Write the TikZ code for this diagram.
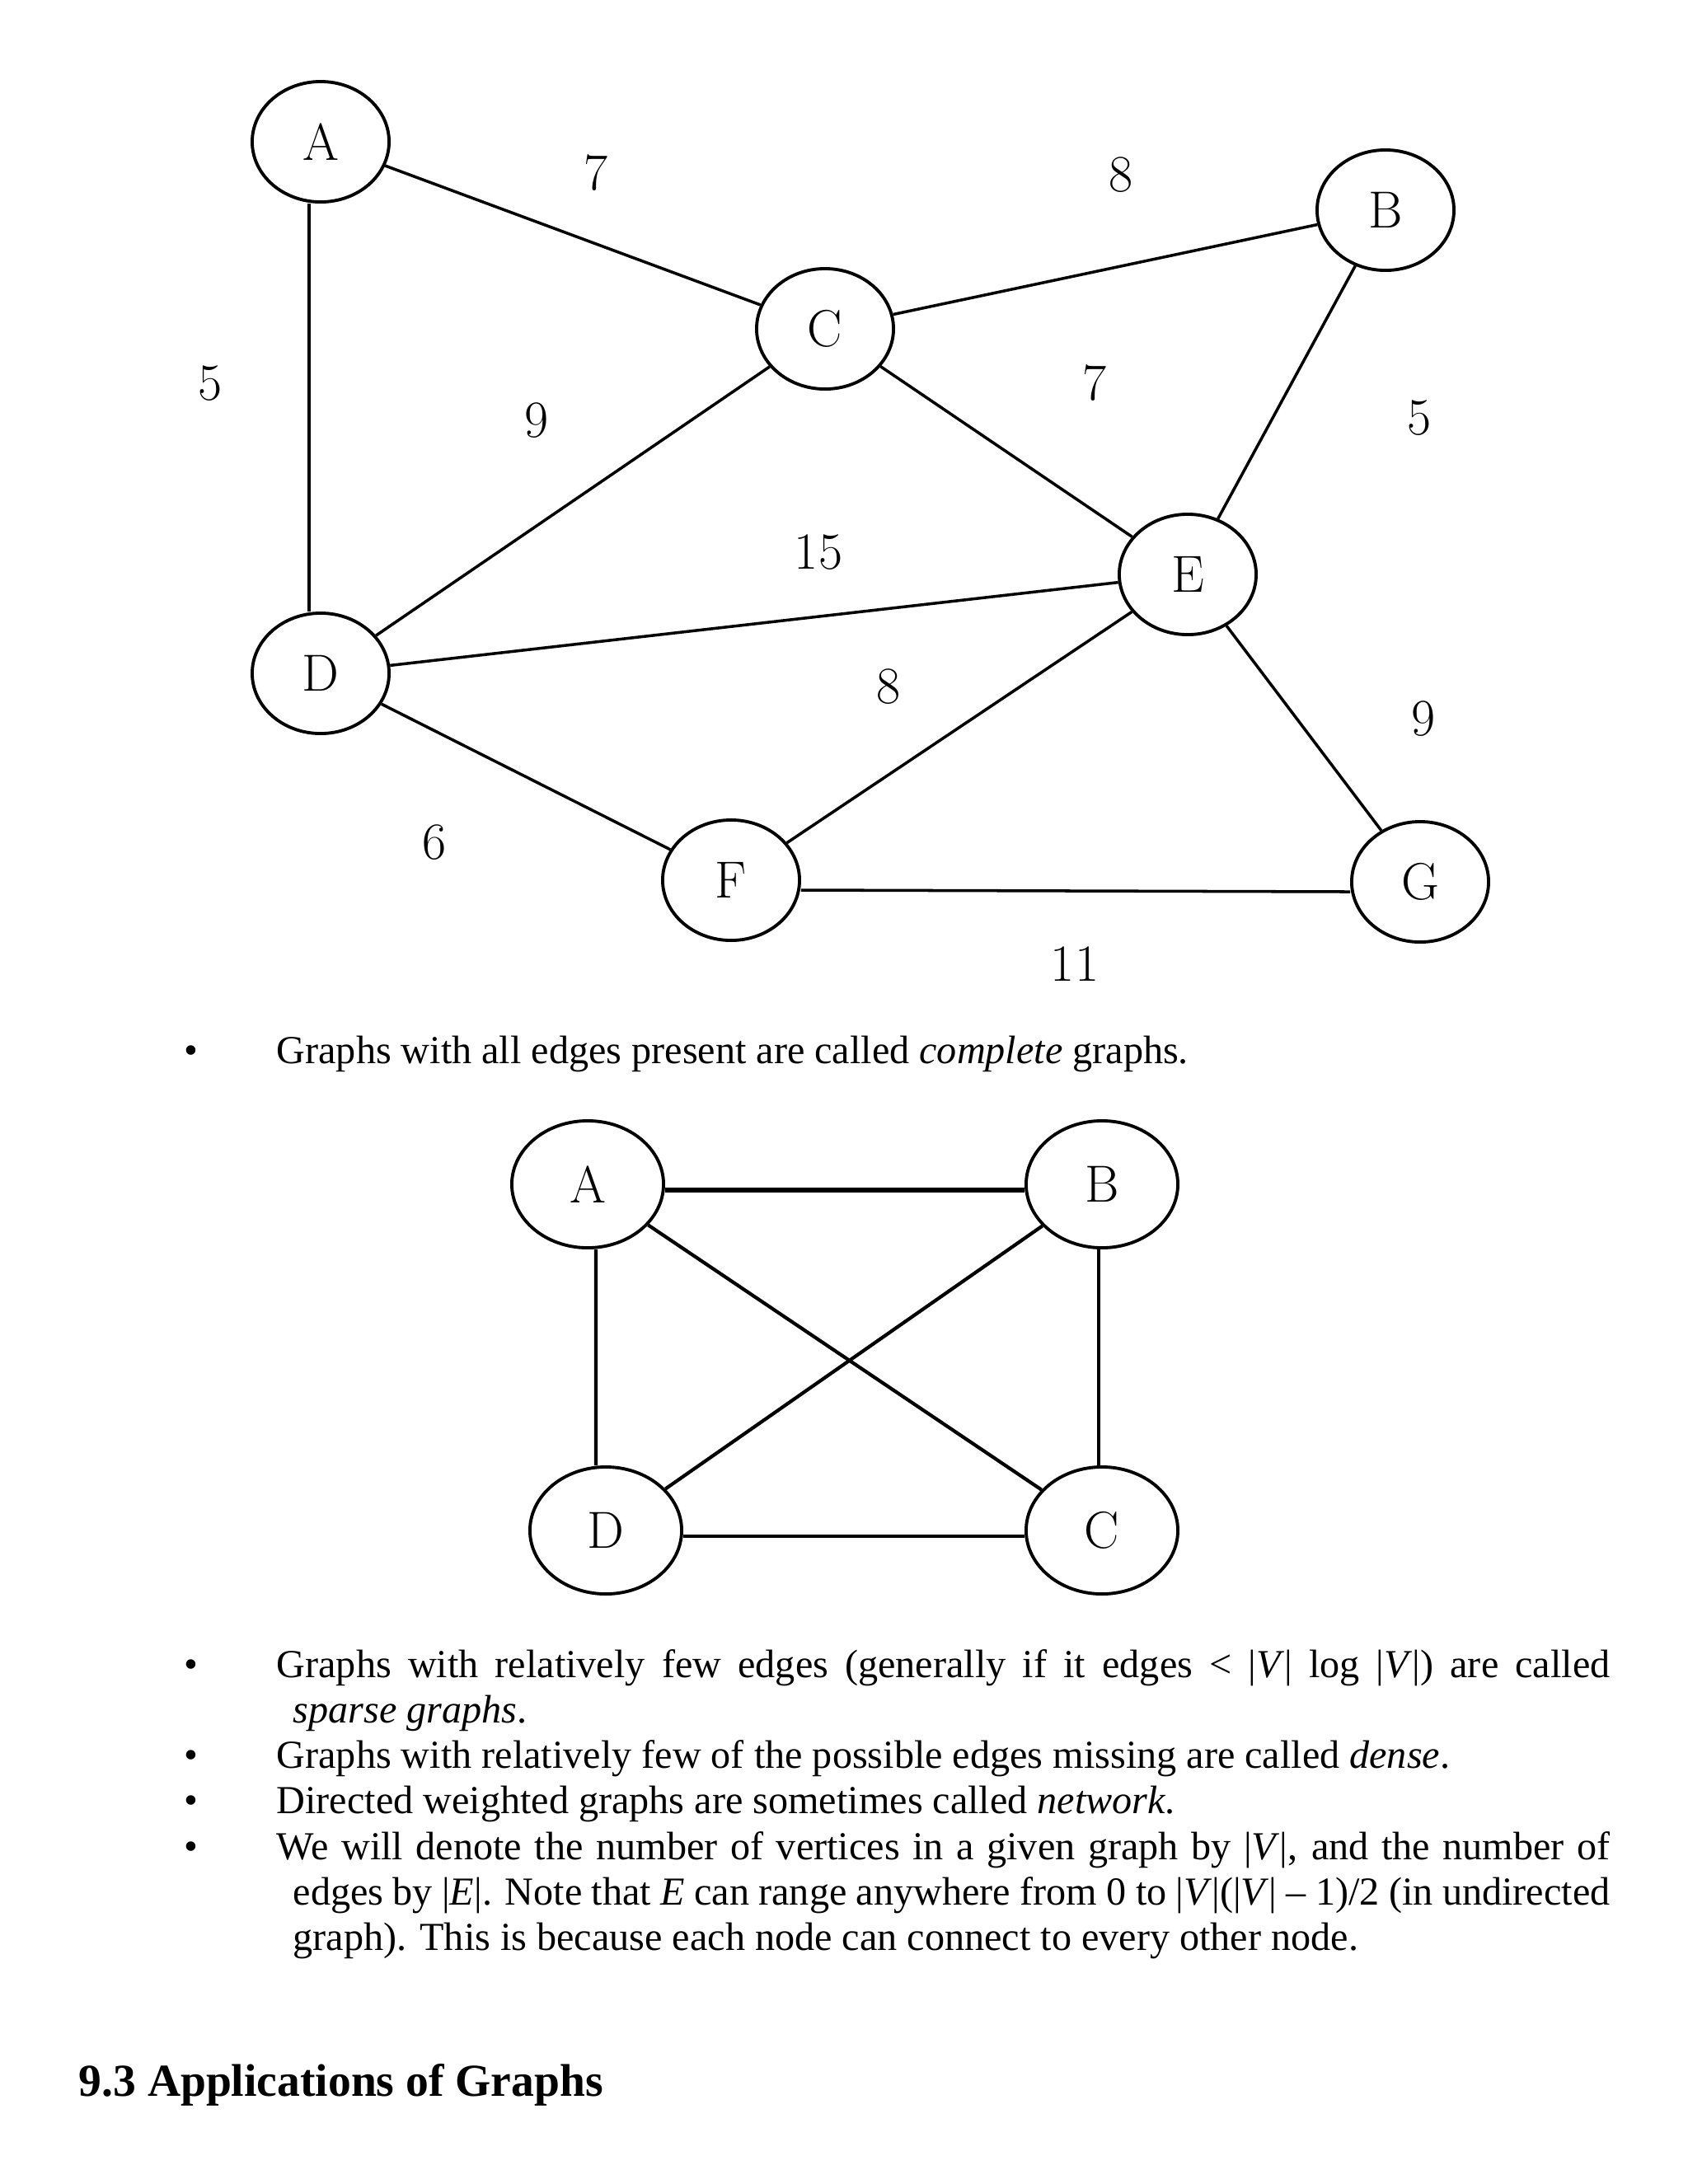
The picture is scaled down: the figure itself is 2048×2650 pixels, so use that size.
\documentclass[tikz,border=0pt]{standalone}
\usepackage{fontspec}
\usetikzlibrary{shapes.geometric}
\newfontfamily\bodyfont[Ligatures=TeX]{Liberation Serif}

\tikzset{
  vtx/.style={ellipse,draw,line width=1.1pt,minimum width=1.66cm,minimum height=1.46cm,inner sep=0pt,font=\fontsize{18}{20}\selectfont},
  kvtx/.style={vtx,minimum width=1.84cm,minimum height=1.54cm},
  wt/.style={inner sep=0pt,font=\fontsize{18}{20}\selectfont},
  link/.style={line width=1pt},
  klink/.style={line width=1.2pt},
  txt/.style={anchor=base west,inner sep=0pt,font=\bodyfont\fontsize{13.7}{15.7}\selectfont},
  dot/.style={txt,anchor=base},
  para/.style={txt,text width=16.17cm,align=justify},
}

\begin{document}
\begin{tikzpicture}[x=0.01cm,y=-0.01cm]
\useasboundingbox (0,0) rectangle (2048,2650);

% weighted graph
\node[vtx] (A) at (389,172) {A};
\node[vtx] (B) at (1681,255) {B};
\node[vtx] (C) at (1001,399) {C};
\node[vtx] (D) at (389,817) {D};
\node[vtx] (E) at (1441,697) {E};
\node[vtx] (F) at (887,1068) {F};
\node[vtx] (G) at (1723,1070) {G};
\draw[link] ([xshift=-0.14cm]A.south) -- ([xshift=-0.14cm]D.north);
\draw[link] ([yshift=-0.12cm]F.east) -- ([yshift=-0.12cm]G.west);
\foreach \u/\v in {A/C,C/B,D/C,C/E,B/E,D/E,F/E,E/G,D/F}
  \draw[link] (\u) -- (\v);
\foreach \n/\p/\w in {AC/{723,210}/7,CB/{1360,212}/8,AD/{255,465}/5,DC/{651,510}/9,
    CE/{1328,465}/7,BE/{1722,507}/5,DE/{993,670}/15,EF/{1078,833}/8,
    EG/{1727,872}/9,DF/{527,1022}/6,FG/{1304,1170}/11}
  \node[wt] (w\n) at (\p) {\w};

% complete graph
\node[kvtx] (ka) at (713,1437) {A};
\node[kvtx] (kb) at (1337,1437) {B};
\node[kvtx] (kc) at (1337,1857) {C};
\node[kvtx] (kd) at (735,1857) {D};
\draw[klink,line width=1.6pt] ([yshift=-0.07cm]ka.east) -- ([yshift=-0.07cm]kb.west);
\draw[klink] ([yshift=-0.07cm]kd.east) -- ([yshift=-0.07cm]kc.west);
\draw[klink] ([xshift=0.1cm]ka.south) -- ([xshift=-0.12cm]kd.north);
\draw[klink] ([xshift=-0.04cm]kb.south) -- ([xshift=-0.04cm]kc.north);
\foreach \u/\v in {ka/kc,kb/kd}
  \draw[klink] (\u) -- (\v);

% text
\node[dot] (d0) at (232,1290) {•};
\node[txt] (t0) at (335,1290) {Graphs with all edges present are called \textit{complete} graphs.};

\node[dot] (d1) at (232,2035) {•};
\node[para] (t1) at (335,2035) {\hangindent=0.2cm\hangafter=1 Graphs with relatively few edges (generally if it edges < |\textit{V}| log |\textit{V}|) are called\linebreak \textit{sparse graphs}.\par};
\node[dot] (d2) at (232,2145) {•};
\node[txt] (t2) at (335,2145) {Graphs with relatively few of the possible edges missing are called \textit{dense}.};
\node[dot] (d3) at (232,2200) {•};
\node[txt] (t3) at (335,2200) {Directed weighted graphs are sometimes called \textit{network}.};
\node[dot] (d4) at (232,2256) {•};
\node[para] (t4) at (335,2256) {\hangindent=0.2cm\hangafter=1 We will denote the number of vertices in a given graph by |\textit{V}|, and the number of\linebreak edges by |\textit{E}|. Note that \textit{E} can range anywhere from 0 to |\textit{V}|(|\textit{V}| -- 1)/2 (in undirected\linebreak graph). This is because each node can connect to every other node.\par};

\node[txt,font=\bodyfont\bfseries\fontsize{15.8}{18}\selectfont] (head) at (95,2543) {9.3 Applications of Graphs};
\end{tikzpicture}
\end{document}
